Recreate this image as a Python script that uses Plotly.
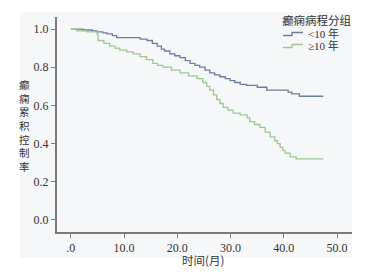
import plotly.graph_objects as go

blue_t = [0, 2.3, 4.0, 4.9, 6.0, 6.8, 7.8, 8.6, 13.0, 14.3, 15.3, 16.2, 17.0, 17.6, 18.6, 19.5, 20.5, 21.5, 22.4, 23.3, 24.2, 25.2, 26.1, 27.0, 28.0, 29.0, 29.9, 30.8, 31.8, 33.0, 35.0, 36.8, 40.8, 41.5, 42.9, 47.4]
blue_s = [1.0, 0.995, 0.99, 0.985, 0.98, 0.975, 0.965, 0.955, 0.947, 0.94, 0.925, 0.91, 0.895, 0.885, 0.87, 0.86, 0.85, 0.835, 0.82, 0.81, 0.80, 0.785, 0.77, 0.76, 0.75, 0.74, 0.73, 0.72, 0.71, 0.705, 0.695, 0.68, 0.67, 0.66, 0.648, 0.648]

green_t = [0, 1.1, 3.0, 4.9, 5.1, 6.2, 7.3, 8.3, 9.2, 10.5, 11.7, 13.0, 14.2, 15.4, 16.3, 17.3, 18.9, 20.5, 22.1, 23.7, 24.8, 25.5, 26.1, 26.8, 27.4, 28.0, 28.6, 29.5, 30.5, 31.8, 33.1, 33.6, 34.5, 35.5, 36.5, 37.4, 38.3, 38.8, 39.3, 39.8, 40.2, 41.2, 42.3, 47.4]
green_s = [1.0, 0.99, 0.985, 0.975, 0.94, 0.925, 0.91, 0.9, 0.89, 0.88, 0.87, 0.855, 0.84, 0.82, 0.81, 0.80, 0.785, 0.77, 0.755, 0.74, 0.72, 0.70, 0.68, 0.655, 0.63, 0.61, 0.59, 0.575, 0.56, 0.55, 0.535, 0.515, 0.50, 0.485, 0.46, 0.435, 0.415, 0.40, 0.38, 0.365, 0.35, 0.33, 0.32, 0.32]

series_names = ["<10 年", "≥10 年"]
series_colors = ["#6e7d9c", "#9ec88f"]
legend_title = "癫痫病程分组"
y_title = "癫痫累积控制率"
x_title = "时间(月)"
x_tickvals = [0, 10, 20, 30, 40, 50]
x_ticktext = [".0", "10.0", "20.0", "30.0", "40.0", "50.0"]
y_tickvals = [0, 0.2, 0.4, 0.6, 0.8, 1.0]
y_ticktext = ["0.0", "0.2", "0.4", "0.6", "0.8", "1.0"]

serif = "Liberation Serif, Noto Sans CJK SC, serif"
cjk = "Noto Sans CJK SC, sans-serif"
text_color = "#333333"

W, H = 381, 272
L, R, T, B = 57, 29, 17, 40
pw, ph = W - L - R, H - T - B


def px(xp):
    return (xp - L) / pw


def py(yp):
    return (H - B - yp) / ph


fig = go.Figure()
for t, s, name, color in [(blue_t, blue_s, series_names[0], series_colors[0]),
                          (green_t, green_s, series_names[1], series_colors[1])]:
    fig.add_trace(go.Scatter(x=t, y=s, mode="lines", line_shape="hv",
                             line=dict(color=color, width=1.3), name=name,
                             showlegend=False))

axis_color = "#7a7a7a"
annotations = []
annotations.append(dict(text="<br>".join(y_title), xref="paper", yref="paper", x=px(24), y=py(125),
                        xanchor="center", yanchor="middle", showarrow=False,
                        font=dict(family=cjk, size=10.5, color=text_color)))
annotations.append(dict(text=x_title, xref="paper", yref="paper", x=px(203), y=py(260),
                        xanchor="center", yanchor="middle", showarrow=False,
                        font=dict(family=cjk, size=11.5, color=text_color)))
annotations.append(dict(text=legend_title, xref="paper", yref="paper", x=px(353), y=py(19.5),
                        xanchor="right", yanchor="middle", showarrow=False,
                        font=dict(family=cjk, size=11.5, color=text_color)))
shapes = [dict(type="rect", xref="paper", yref="paper", x0=px(20), x1=px(352),
               y0=py(258), y1=py(12), fillcolor="#f6f7f9", line=dict(width=0), layer="below")]
for i, (name, color) in enumerate(zip(series_names, series_colors)):
    yc = 33.5 + 12 * i
    annotations.append(dict(text=name, xref="paper", yref="paper", x=px(306), y=py(yc),
                            xanchor="left", yanchor="middle", showarrow=False,
                            font=dict(family=serif, size=11, color=text_color)))
    path = "M {},{} L {},{} L {},{} L {},{}".format(
        px(283), py(yc + 2), px(292), py(yc + 2), px(292), py(yc - 1), px(303), py(yc - 1))
    shapes.append(dict(type="path", xref="paper", yref="paper", path=path,
                       line=dict(color=color, width=1.3)))

fig.update_layout(
    width=W, height=H,
    margin=dict(l=L, r=R, t=T, b=B, autoexpand=False),
    paper_bgcolor="white",
    plot_bgcolor="rgba(0,0,0,0)",
    showlegend=False,
    xaxis=dict(range=[-2.6, 52.8], tickvals=x_tickvals, ticktext=x_ticktext, automargin=False,
               showgrid=False, zeroline=False, showline=True, linecolor=axis_color,
               linewidth=2, ticks="outside", ticklen=4, tickcolor=axis_color,
               tickfont=dict(family=serif, size=12, color=text_color)),
    yaxis=dict(range=[-0.063, 1.063], tickvals=y_tickvals, ticktext=y_ticktext, automargin=False,
               showgrid=False, zeroline=False, showline=True, linecolor=axis_color,
               linewidth=2, ticks="outside", ticklen=4, tickcolor=axis_color,
               tickfont=dict(family=serif, size=12, color=text_color)),
    shapes=shapes,
    annotations=annotations,
)

fig.write_html("out.html", config={"displayModeBar": False},
               post_script="document.body.style.margin='0';document.body.style.padding='0';document.body.style.overflow='hidden';")
